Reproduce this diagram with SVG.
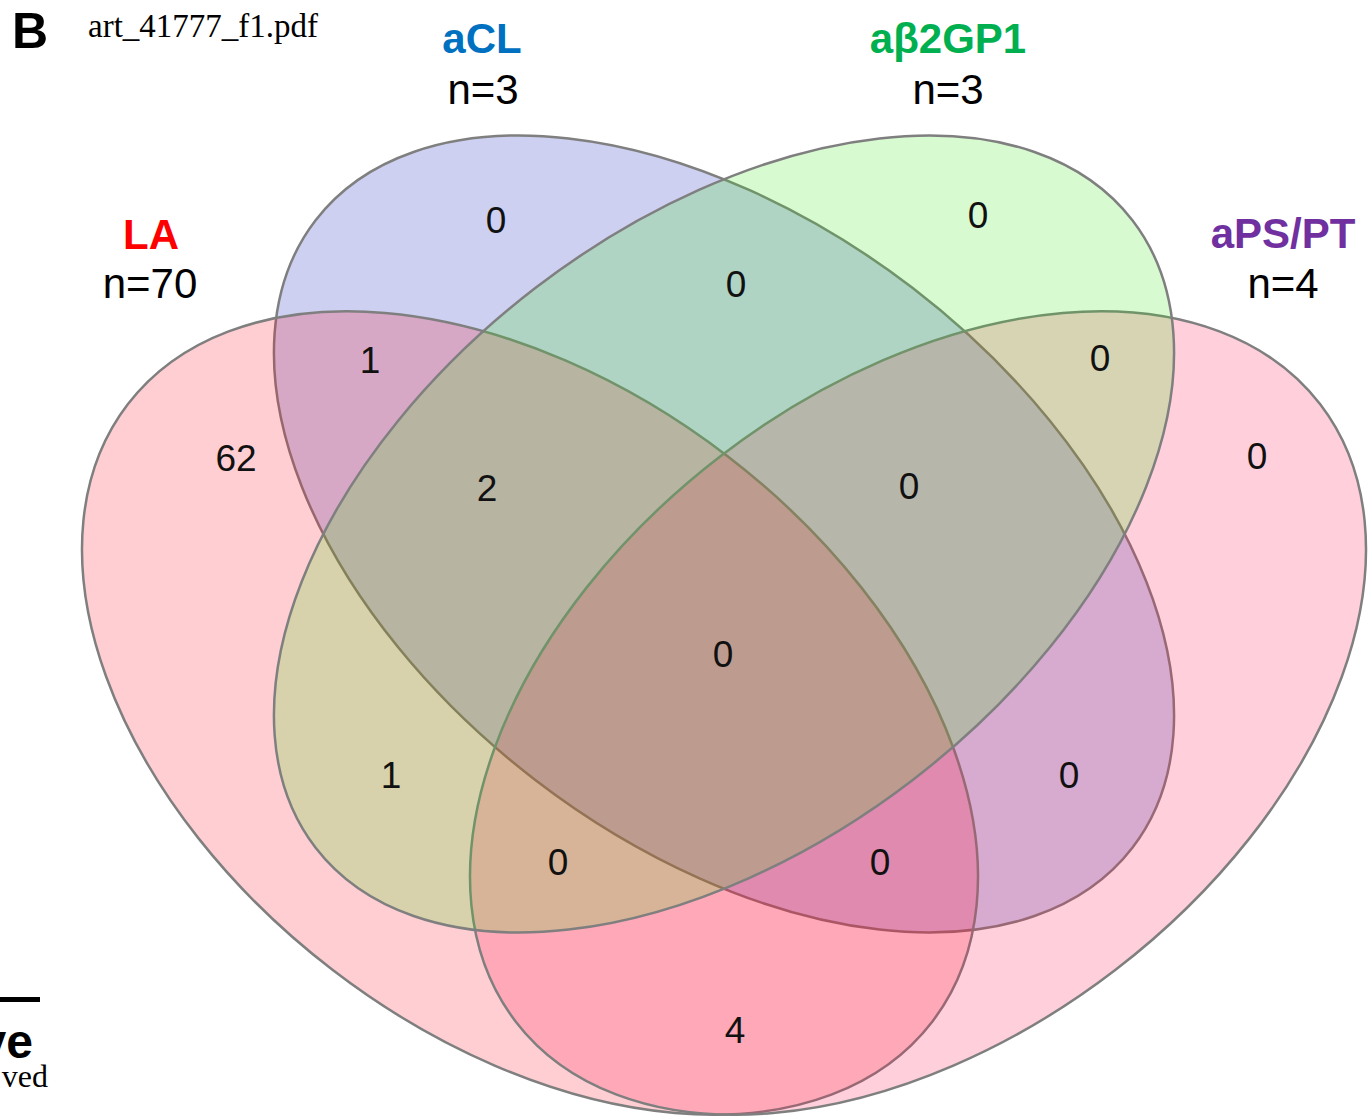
<svg xmlns="http://www.w3.org/2000/svg" width="1371" height="1119" viewBox="0 0 1371 1119">
<style>
.set{fill-opacity:0.2;stroke:#7f7f7f;stroke-width:2.5}
.lbl{font-family:"Liberation Sans",Arial,sans-serif;font-size:42px;text-anchor:middle}
.b{font-weight:bold}
.num{font-family:"Liberation Sans",Arial,sans-serif;font-size:37px;text-anchor:middle;fill:#111}
</style>
<rect width="1371" height="1119" fill="#fff"/>
<g id="sets">
<g id="set-aCL"><ellipse class="set" cx="724" cy="534" rx="515" ry="310" transform="rotate(37.5 724 534)" fill="#0514B4"/></g>
<g id="set-LA"><ellipse class="set" cx="530" cy="713" rx="507" ry="324" transform="rotate(37.5 530 713)" fill="#FF0A1E"/></g>
<g id="set-aPSPT"><ellipse class="set" cx="918" cy="713" rx="507" ry="324" transform="rotate(-37.5 918 713)" fill="#FF1450"/></g>
<g id="set-ab2GP1"><ellipse class="set" cx="724" cy="534" rx="515" ry="310" transform="rotate(-37.5 724 534)" fill="#37E614"/></g>
</g>
<g id="titles">
<text x="12" y="48" font-family="Liberation Sans,Arial,sans-serif" font-weight="bold" font-size="50">B</text>
<text x="88" y="37" font-family="Liberation Serif,Times New Roman,serif" font-size="33">art_41777_f1.pdf</text>
<g id="label-aCL"><text class="lbl b" x="482" y="53" fill="#0070C0">aCL</text><text class="lbl" x="483" y="104">n=3</text></g>
<g id="label-ab2GP1"><text class="lbl b" x="948" y="53" fill="#00B050">aβ2GP1</text><text class="lbl" x="948" y="104">n=3</text></g>
<g id="label-LA"><text class="lbl b" x="151" y="249" fill="#FF0000">LA</text><text class="lbl" x="150" y="298">n=70</text></g>
<g id="label-aPSPT"><text class="lbl b" x="1283" y="248" fill="#7030A0">aPS/PT</text><text class="lbl" x="1283" y="298">n=4</text></g>
</g>
<g id="counts">
<text class="num" x="496" y="233">0</text>
<text class="num" x="978" y="228">0</text>
<text class="num" x="736" y="297">0</text>
<text class="num" x="1100" y="371">0</text>
<text class="num" x="370" y="373">1</text>
<text class="num" x="236" y="471">62</text>
<text class="num" x="487" y="501">2</text>
<text class="num" x="909" y="499">0</text>
<text class="num" x="1257" y="469">0</text>
<text class="num" x="723" y="667">0</text>
<text class="num" x="391" y="788">1</text>
<text class="num" x="1069" y="788">0</text>
<text class="num" x="558" y="875">0</text>
<text class="num" x="880" y="875">0</text>
<text class="num" x="735" y="1043">4</text>
</g>
<g id="page-fragments">
<rect x="0" y="997" width="40" height="5" fill="#000"/>
<text x="33" y="1058" text-anchor="end" font-family="Liberation Sans,Arial,sans-serif" font-weight="bold" font-size="48">ve</text>
<text x="48" y="1087" text-anchor="end" font-family="Liberation Serif,Times New Roman,serif" font-size="32">ved</text>
</g>
</svg>
